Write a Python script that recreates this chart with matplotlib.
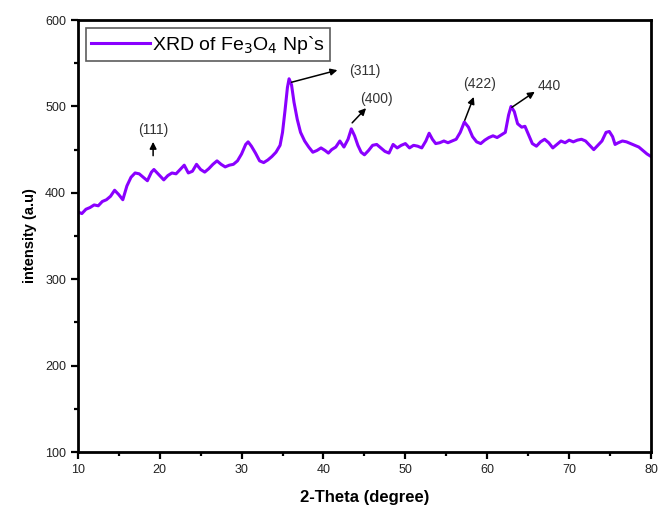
import matplotlib.pyplot as plt
from matplotlib.ticker import MultipleLocator

plt.rcParams['font.family'] = ['Liberation Sans', 'DejaVu Sans']

# XRD pattern (2-theta in degrees, intensity in a.u.)
two_theta = [10.0, 10.5, 11.0, 11.5, 12.0, 12.5, 13.0, 13.5, 14.0, 14.5, 15.0, 15.5,
             16.0, 16.5, 17.0, 17.5, 18.0, 18.5, 19.0, 19.3, 19.8, 20.5, 21.0, 21.5,
             22.0, 22.5, 23.0, 23.5, 24.0, 24.5, 25.0, 25.5, 26.0, 26.5, 27.0, 27.5,
             28.0, 28.5, 29.0, 29.5, 30.0, 30.5, 30.8, 31.2, 31.7, 32.2, 32.7, 33.2,
             33.7, 34.2, 34.7, 35.0, 35.3, 35.6, 35.8, 36.1, 36.4, 36.8, 37.2, 37.7,
             38.2, 38.7, 39.2, 39.7, 40.2, 40.6, 41.0, 41.5, 42.0, 42.5, 43.0, 43.4,
             43.8, 44.2, 44.6, 45.0, 45.5, 46.0, 46.5, 47.0, 47.5, 48.0, 48.5, 49.0,
             49.5, 50.0, 50.5, 51.0, 51.5, 52.0, 52.5, 52.9, 53.3, 53.7, 54.2, 54.7,
             55.2, 55.7, 56.2, 56.7, 57.2, 57.7, 58.2, 58.7, 59.2, 59.7, 60.2, 60.7,
             61.2, 61.7, 62.2, 62.6, 62.9, 63.3, 63.7, 64.2, 64.6, 65.0, 65.5, 66.0,
             66.5, 67.0, 67.5, 68.0, 68.5, 69.0, 69.5, 70.0, 70.5, 71.0, 71.5, 72.0,
             72.5, 73.0, 73.5, 74.0, 74.5, 74.9, 75.3, 75.6, 76.0, 76.5, 77.0, 77.5,
             78.0, 78.5, 79.0, 79.5, 80.0]
intensity = [378, 376, 381, 383, 386, 385, 390, 392, 396, 403, 398, 392,
             408, 418, 423, 422, 418, 414, 424, 427, 422, 415, 420, 423,
             422, 427, 432, 423, 425, 433, 427, 424, 428, 433, 437, 433,
             430, 432, 433, 437, 445, 456, 459, 454, 446, 437, 435, 438,
             442, 447, 455, 470, 495, 522, 532, 525, 505, 485, 470, 460,
             453, 447, 449, 452, 449, 446, 450, 453, 460, 453, 462, 474,
             466, 455, 447, 444, 449, 455, 456, 452, 448, 446, 456, 452,
             455, 457, 452, 455, 454, 452, 460, 469, 462, 457, 458, 460,
             458, 460, 462, 470, 482, 476, 465, 459, 457, 461, 464, 466,
             464, 467, 470, 490, 500, 494, 480, 476, 477, 468, 457, 454,
             459, 462, 458, 452, 456, 460, 458, 461, 459, 461, 462, 460,
             455, 450, 455, 460, 470, 471, 465, 456, 458, 460, 459, 457,
             455, 453, 449, 445, 442]

# peak labels: text, text position, arrow tail, arrow head
peak_labels = ['(111)', '(311)', '(400)', '(422)', '440']
label_xy = [(19.2, 473), (45.0, 541), (46.5, 509), (59.0, 526), (67.6, 524)]
arrow_tail = [(19.2, 443), (36.1, 528), (43.5, 481), (57.25, 484), (63.0, 499)]
arrow_head = [(19.2, 459), (41.7, 542), (45.2, 498), (58.35, 511), (65.8, 517)]

violet = '#8A00FF'

fig = plt.figure(figsize=(6.59, 5.14), dpi=100)
ax = fig.add_axes([0.118, 0.1206, 0.870, 0.8404])

ax.plot(two_theta, intensity, color=violet, lw=2.2, label='XRD of Fe$_3$O$_4$ Np`s')

for txt, (tx, ty), tail, head in zip(peak_labels, label_xy, arrow_tail, arrow_head):
    ax.annotate('', xy=head, xytext=tail,
                arrowprops=dict(arrowstyle='-|>', color='black', lw=1.1,
                                mutation_scale=10, shrinkA=0, shrinkB=0))
    ax.text(tx, ty, txt, ha='center', va='center', fontsize=10, color='#333333')

ax.set_xlim(10, 80)
ax.set_ylim(100, 600)
ax.xaxis.set_major_locator(MultipleLocator(10))
ax.xaxis.set_minor_locator(MultipleLocator(5))
ax.yaxis.set_major_locator(MultipleLocator(100))
ax.yaxis.set_minor_locator(MultipleLocator(50))
ax.tick_params(which='both', direction='out', width=1.6, labelsize=9,
               labelcolor='#222222', top=False, right=False)
ax.tick_params(which='major', length=5)
ax.tick_params(which='minor', length=3)
for s in ax.spines.values():
    s.set_linewidth(2)

ax.set_xlabel('2-Theta (degree)', fontsize=12, fontweight='bold', labelpad=10)
ax.set_ylabel('intensity (a.u)', fontsize=10.5, fontweight='bold', labelpad=6)

leg = ax.legend(loc='upper left', fontsize=14, frameon=True, fancybox=False,
                handlelength=3.0, handletextpad=0.1, borderaxespad=0.4,
                borderpad=0.3, bbox_to_anchor=(0.0, 1.0))
leg.get_frame().set_edgecolor('#333333')
leg.get_frame().set_linewidth(1.2)

fig.savefig('out.png', dpi=100)
